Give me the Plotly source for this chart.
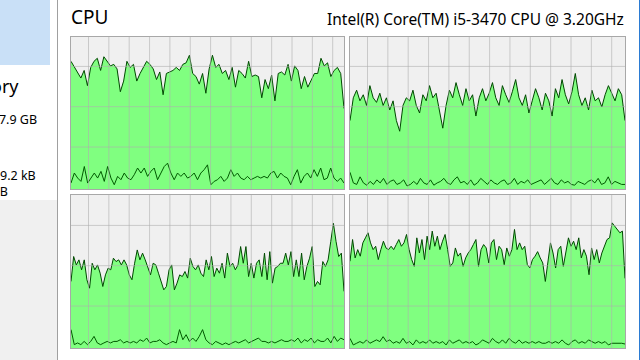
import numpy as np
import plotly.graph_objects as go

# ---------------- data (CPU utilisation %) ----------------
core0_total = [84, 80, 76, 73, 78, 68, 80, 84, 86, 78, 87, 84, 81, 82, 79, 64, 71, 84, 80, 82,
               71, 76, 80, 84, 82, 79, 72, 77, 62, 76, 77, 78, 80, 78, 82, 83, 88, 76, 74, 69,
               76, 63, 79, 88, 80, 82, 76, 78, 72, 80, 67, 78, 76, 73, 84, 74, 75, 74, 60, 72,
               66, 75, 58, 76, 77, 75, 82, 71, 81, 78, 66, 74, 67, 72, 76, 76, 86, 81, 83, 74,
               78, 80, 76, 53]
core0_kernel = [3.9, 10.5, 7.2, 5.0, 14.8, 3.9, 7.2, 10.5, 7.2, 11.6, 5.0, 14.8, 7.2, 2.8, 8.3,
                6.1, 10.5, 7.2, 6.1, 9.4, 13.8, 10.5, 13.8, 8.3, 11.6, 13.8, 6.1, 10.5, 14.8, 17.0,
                10.5, 6.1, 10.5, 8.3, 10.5, 7.2, 8.3, 10.5, 6.1, 10.5, 12.7, 15.9, 2.8, 5.0, 6.1,
                8.3, 5.0, 7.2, 12.7, 8.3, 10.5, 7.2, 6.1, 8.3, 6.1, 7.2, 8.3, 7.2, 8.3, 7.2,
                10.5, 11.6, 7.2, 10.5, 8.3, 7.2, 2.8, 8.3, 12.7, 3.9, 8.3, 10.5, 7.2, 12.7, 8.3,
                13.8, 6.1, 7.2, 13.8, 7.2, 5.0, 7.2, 3.9]

core1_total = [45, 60, 65, 58, 62, 55, 68, 60, 57, 63, 55, 60, 52, 58, 45, 38, 55, 60, 58, 65,
               55, 50, 62, 58, 68, 60, 63, 52, 40, 55, 65, 60, 70, 62, 55, 66, 58, 62, 48, 60,
               66, 58, 63, 70, 60, 55, 68, 62, 57, 64, 72, 60, 55, 62, 50, 58, 66, 60, 52, 63,
               58, 48, 66, 60, 72, 62, 56, 64, 76, 62, 55, 60, 52, 65, 58, 60, 54, 62, 68, 63,
               58, 66, 62, 45]
core1_kernel = [11, 4, 3, 8, 4, 2.5, 5, 3, 6, 4, 7, 3, 5, 6, 3, 4, 6, 2, 3, 5, 3, 7, 4, 3, 6,
                2.5, 4, 5, 7, 4, 3, 6, 8, 4, 5, 3, 6, 2.5, 4, 7, 5, 3, 6, 4, 3, 5, 6, 3, 4, 7,
                3, 5, 4, 6, 3, 4, 5, 6, 3, 5, 7, 4, 3, 6, 4, 5, 3, 2.5, 5, 4, 3, 5, 6, 4, 7,
                3, 4, 8, 3, 5, 4, 3, 3]

core2_total = [43.5, 59.8, 54.3, 57.6, 51.1, 57.6, 44.6, 39.1, 55.4, 51.1, 54.3, 48.9, 40.2, 47.8,
               52.2, 51.1, 58.7, 56.5, 57.6, 54.3, 57.6, 54.3, 47.8, 44.6, 55.4, 64.1, 57.6, 62.0,
               57.6, 53.3, 47.8, 55.4, 54.3, 48.9, 43.5, 38.0, 40.2, 51.1, 54.3, 38.0, 42.4, 47.8,
               46.7, 50.0, 45.7, 58.7, 53.3, 51.1, 54.3, 48.9, 46.7, 57.6, 51.1, 59.8, 46.7, 52.2,
               48.9, 55.4, 45.7, 62.0, 53.3, 55.4, 51.1, 54.3, 66.3, 55.4, 66.3, 46.7, 55.4, 45.7,
               55.4, 57.6, 46.7, 62.0, 44.6, 63.0, 42.4, 52.2, 53.3, 55.4, 55.4, 62.0, 54.3, 63.0,
               46.7, 57.6, 46.7, 62.0, 44.6, 53.3, 58.7, 66.3, 40.2, 43.5, 41.3, 56.5, 53.3, 57.6,
               69.6, 81.5, 69.6, 59.8, 62.0, 37.0]
core2_kernel = [12.0, 2.2, 3.3, 2.2, 4.3, 2.2, 4.3, 7.6, 3.3, 2.2, 3.3, 4.3, 3.3, 4.3, 4.3, 5.4,
                3.3, 4.3, 3.3, 4.3, 3.3, 5.4, 4.3, 6.5, 3.3, 4.3, 4.3, 5.4, 3.3, 2.2, 3.3, 4.3,
                3.3, 12.0, 5.4, 8.7, 4.3, 6.5, 4.3, 7.6, 12.0, 5.4, 3.3, 2.2, 4.3, 3.3, 2.2, 3.3,
                2.2, 3.3, 4.3, 3.3, 4.3, 5.4, 3.3, 4.3, 5.4, 6.5, 4.3, 4.3, 3.3, 4.3, 3.3, 4.3,
                5.4, 4.3, 4.3, 5.4, 4.3, 6.5, 3.3, 5.4, 4.3, 6.5, 3.3, 5.4, 4.3, 4.3, 6.5, 3.3,
                7.6, 4.3, 6.5, 5.4]

core3_total = [56.7, 70.9, 58.9, 64.3, 60.0, 68.7, 72.0, 75.3, 68.7, 64.3, 66.5, 57.8, 64.3, 69.8,
               65.4, 64.3, 66.5, 64.3, 67.6, 70.9, 66.5, 68.7, 74.2, 64.3, 57.8, 53.4, 72.0, 62.1,
               70.9, 57.8, 73.1, 64.3, 76.4, 66.5, 73.1, 64.3, 69.8, 74.2, 64.3, 53.4, 55.6, 65.4,
               60.0, 62.1, 53.4, 58.9, 62.1, 64.3, 67.6, 70.9, 53.4, 64.3, 67.6, 65.4, 55.6, 68.7,
               70.9, 57.8, 66.5, 64.3, 54.5, 65.4, 60.0, 64.3, 77.5, 64.3, 68.7, 64.3, 66.5, 54.5,
               52.3, 57.8, 60.0, 63.0, 58.9, 55.6, 43.5, 55.6, 68.7, 62.1, 52.3, 64.3, 66.5, 53.4,
               62.1, 72.0, 66.5, 69.8, 64.3, 72.0, 58.9, 64.3, 60.0, 47.9, 65.4, 57.8, 64.3, 55.6,
               62.1, 66.5, 70.9, 72.0, 81.8, 79.6, 77.5, 75.3, 76.4, 45.5]
core3_kernel = [6.3, 2.0, 3.1, 4.2, 3.1, 5.3, 3.1, 4.2, 5.3, 4.2, 7.4, 4.2, 5.3, 3.1, 4.2, 3.1,
                6.3, 3.1, 4.2, 2.0, 5.3, 3.1, 4.2, 3.1, 5.3, 3.1, 4.2, 3.1, 4.2, 2.0, 5.3, 3.1,
                4.2, 5.3, 3.1, 4.2, 3.1, 4.2, 2.0, 3.1, 5.3, 4.2, 3.1, 6.3, 4.2, 3.1, 5.3, 3.1,
                6.3, 4.2, 3.1, 5.3, 3.1, 4.2, 3.1, 4.2, 3.1, 4.2, 3.1, 3.1, 4.2, 3.1, 4.2, 3.1,
                5.3, 3.1, 2.0, 4.2, 5.3, 3.1, 4.2, 3.1, 5.3, 4.2, 3.1, 4.2, 3.1, 4.2, 2.0, 3.1,
                3.1, 3.1, 3.1, 2.6]

cores = [(core0_total, core0_kernel), (core1_total, core1_kernel),
         (core2_total, core2_kernel), (core3_total, core3_kernel)]

title_text = "CPU"
cpu_name = "Intel(R) Core(TM) i5-3470 CPU @ 3.20GHz"
side_texts = [("ory", 21, 86, 18), ("/ 7.9 GB", 39, 120, 12.5), ("9.2 kB", 38, 175, 12.5), ("kB", 10, 191, 12.5)]

# ---------------- layout helpers ----------------
W, H = 640, 360
def px(x):
    return x / W
def py(y):
    return 1 - y / H

# panel pixel boxes (left, top, right, bottom)
panels = [(71, 37, 344, 189), (350, 37, 625, 189), (71, 195, 344, 348), (350, 195, 625, 348)]

FILL = "#80ff80"
LINE_TOTAL = "rgb(0,72,0)"
LINE_KERNEL = "rgb(0,90,0)"
PANEL_BG = "#f0f0f0"
BORDER = "#a8a8a8"
GRID = "rgba(175,175,175,0.6)"

fig = go.Figure()
shapes = []

for i, ((tot, ker), (l, t, r, b)) in enumerate(zip(cores, panels)):
    n = i + 1
    xa = "x" if n == 1 else f"x{n}"
    ya = "y" if n == 1 else f"y{n}"
    xt = np.arange(len(tot)) / (len(tot) - 1)
    xk = np.arange(len(ker)) / (len(ker) - 1)
    fig.add_trace(go.Scatter(x=xt, y=tot, mode="lines", fill="tozeroy", fillcolor=FILL,
                             line=dict(color=LINE_TOTAL, width=1), xaxis=xa, yaxis=ya,
                             hoverinfo="skip", showlegend=False))
    fig.add_trace(go.Scatter(x=xk, y=ker, mode="lines",
                             line=dict(color=LINE_KERNEL, width=1), xaxis=xa, yaxis=ya,
                             hoverinfo="skip", showlegend=False))
    axkw = dict(showgrid=False, zeroline=False, showticklabels=False, ticks="",
                showline=True, mirror=True, linecolor=BORDER, linewidth=1, fixedrange=True,
                layer="above traces")
    fig.update_layout(**{
        ("xaxis" if n == 1 else f"xaxis{n}"): dict(domain=[px(l), px(r)], range=[0, 1],
                                                  anchor=ya, **axkw),
        ("yaxis" if n == 1 else f"yaxis{n}"): dict(domain=[py(b), py(t)], range=[0, 100],
                                                  anchor=xa, **axkw),
    })
    pw = r - l
    ph = b - t
    # vertical grid lines every ~20.35 px starting 17.5 px in
    gx = 17.5
    while gx < pw - 2:
        shapes.append(dict(type="line", xref=f"{xa} domain", yref=f"{ya} domain",
                           x0=gx / pw, x1=gx / pw, y0=0, y1=1, layer="above",
                           line=dict(color=GRID, width=1)))
        gx += 20.35
    for gy in (42, 82.3, 122.6):
        shapes.append(dict(type="line", xref=f"{xa} domain", yref=f"{ya} domain",
                           x0=0, x1=1, y0=gy / ph, y1=gy / ph, layer="above",
                           line=dict(color=GRID, width=1)))

# background panels of the window
bg_shapes = [
    dict(type="rect", xref="paper", yref="paper", x0=0, x1=px(57), y0=0, y1=py(200),
         fillcolor="#f0f0f0", line=dict(width=0), layer="below"),
    dict(type="rect", xref="paper", yref="paper", x0=0, x1=px(50), y0=py(65), y1=1,
         fillcolor="#c9e0f7", line=dict(width=0), layer="below"),
    dict(type="line", xref="paper", yref="paper", x0=px(57.5), x1=px(57.5), y0=0, y1=1,
         line=dict(color="#a0a0a0", width=1), layer="below"),
    dict(type="line", xref="paper", yref="paper", x0=px(639.5), x1=px(639.5), y0=0, y1=1,
         line=dict(color="#2b7bd3", width=1), layer="below"),
]
for (l, t, r, b) in panels:
    bg_shapes.append(dict(type="rect", xref="paper", yref="paper", x0=px(l), x1=px(r),
                          y0=py(b), y1=py(t), fillcolor=PANEL_BG, line=dict(width=0),
                          layer="below"))

annotations = [
    dict(text=title_text, x=px(69), y=py(17), xref="paper", yref="paper", xanchor="left",
         yanchor="middle", showarrow=False, font=dict(family="Noto Sans", size=19, color="#000")),
    dict(text=cpu_name, x=px(626), y=py(19), xref="paper", yref="paper", xanchor="right",
         yanchor="middle", showarrow=False, font=dict(family="Noto Sans", size=15.5, color="#000")),
]
for txt, xr, yc, fs in side_texts:
    annotations.append(dict(text=txt, x=px(xr), y=py(yc), xref="paper", yref="paper",
                            xanchor="right", yanchor="middle", showarrow=False,
                            font=dict(family="Noto Sans", size=fs, color="#000")))

fig.update_layout(width=W, height=H, margin=dict(l=0, r=0, t=0, b=0),
                  paper_bgcolor="white", plot_bgcolor="rgba(0,0,0,0)",
                  shapes=bg_shapes + shapes, annotations=annotations)

fig.write_html("out.html", config={"displayModeBar": False},
               post_script="document.body.style.margin='0';document.body.style.overflow='hidden';")
